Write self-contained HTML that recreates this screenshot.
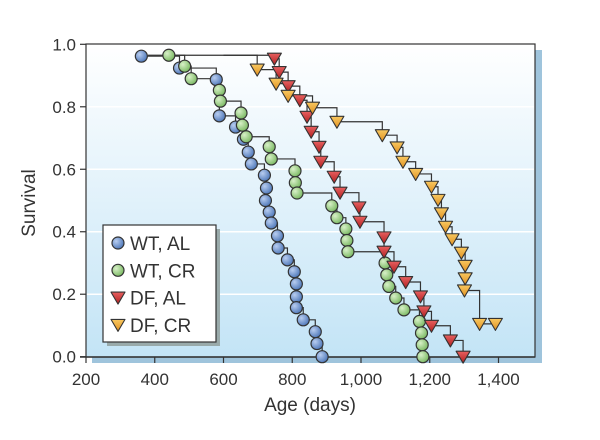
<!DOCTYPE html>
<html><head><meta charset="utf-8"><style>
body{margin:0;background:#fff;width:600px;height:435px;overflow:hidden}
svg text{font-family:"Liberation Sans",sans-serif;fill:#333}
</style></head><body>
<svg id="chart" width="600" height="435">
<defs>
<linearGradient id="bg" x1="0" y1="0" x2="0" y2="1"><stop offset="0" stop-color="#ffffff"/><stop offset="1" stop-color="#c3e4f6"/></linearGradient>
<radialGradient id="gb" cx="0.35" cy="0.35" r="0.7"><stop offset="0" stop-color="#b8cdf0"/><stop offset="1" stop-color="#4c76b8"/></radialGradient>
<radialGradient id="gg" cx="0.35" cy="0.35" r="0.7"><stop offset="0" stop-color="#d8f0c8"/><stop offset="1" stop-color="#78b860"/></radialGradient>
<linearGradient id="gr" x1="0" y1="0" x2="0" y2="1"><stop offset="0" stop-color="#e86060"/><stop offset="1" stop-color="#b02020"/></linearGradient>
<linearGradient id="go" x1="0" y1="0" x2="0" y2="1"><stop offset="0" stop-color="#f8c860"/><stop offset="1" stop-color="#e09020"/></linearGradient>
</defs>
<rect x="92" y="50" width="450" height="313" fill="#9fc4dc"/>
<rect x="86" y="44" width="449" height="313" fill="url(#bg)" stroke="#333" stroke-width="1.2"/>
<g id="grid"></g>
<g id="axes"></g>
<g id="series"></g>
<g>
<rect x="107" y="229" width="113" height="117" fill="#9aa"/>
<rect x="103" y="225" width="113" height="117" fill="#fff" stroke="#333" stroke-width="1.2"/>
<g id="legend"></g>
</g>
<text x="35" y="203" font-size="19" text-anchor="middle" transform="rotate(-90 35 203)">Survival</text>
<text x="310" y="411" font-size="19" text-anchor="middle">Age (days)</text>
</svg>
<script>
const xTicks=[200,400,600,800,1000,1200,1400];
const xTickLabels=["200","400","600","800","1,000","1,200","1,400"];
const yTicks=[0,0.2,0.4,0.6,0.8,1.0];
const yTickLabels=["0.0","0.2","0.4","0.6","0.8","1.0"];
const seriesNames=["WT, AL","WT, CR","DF, AL","DF, CR"];
const wtAlDays=[361,472,579,588,635,658,672,681,719,725,722,733,739,757,759,786,806,812,812,812,832,867,872,887];
const wtAlSurv=[0.962,0.924,0.887,0.771,0.735,0.696,0.655,0.617,0.581,0.54,0.50,0.463,0.428,0.387,0.348,0.31,0.272,0.233,0.192,0.157,0.118,0.08,0.042,0];
const wtCrDays=[441,487,506,588,591,651,655,666,733,739,808,809,814,915,930,956,959,962,1070,1075,1081,1101,1125,1170,1176,1178,1180];
const wtCrSurv=[0.965,0.93,0.89,0.853,0.818,0.78,0.741,0.704,0.672,0.633,0.595,0.557,0.524,0.483,0.445,0.409,0.372,0.336,0.3,0.262,0.225,0.188,0.15,0.113,0.076,0.038,0];
const dfAlDays=[748,762,788,822,843,855,878,883,922,939,994,997,1067,1067,1096,1130,1173,1183,1205,1260,1297];
const dfAlSurv=[0.954,0.911,0.866,0.821,0.768,0.72,0.672,0.624,0.576,0.525,0.478,0.432,0.382,0.336,0.288,0.239,0.193,0.145,0.099,0.052,0];
const dfCrDays=[698,753,788,859,930,1062,1105,1122,1159,1205,1224,1234,1246,1265,1292,1303,1303,1301,1345,1391];
const dfCrSurv=[0.919,0.874,0.835,0.797,0.752,0.709,0.67,0.624,0.585,0.544,0.502,0.459,0.416,0.376,0.333,0.291,0.251,0.212,0.105,0.105];

const X=d=>86+(d-200)*0.34375;
const Y=s=>356.7-s*312.4;
const NS="http://www.w3.org/2000/svg";
function mk(tag,attrs,parent){const e=document.createElementNS(NS,tag);for(const k in attrs)e.setAttribute(k,attrs[k]);parent.appendChild(e);return e;}
const grid=document.getElementById('grid'),axes=document.getElementById('axes'),ser=document.getElementById('series'),leg=document.getElementById('legend');
yTicks.forEach((v,i)=>{
  if(v>0&&v<1){const g=mk('line',{x1:87,x2:534,y1:Y(v),y2:Y(v),stroke:'#fff','stroke-width':1.5},grid);
  
  }
  const t=mk('line',{x1:80,x2:86,y1:Y(v),y2:Y(v),stroke:'#333','stroke-width':1.2},axes);
  
  
  const l=mk('text',{x:76,y:Y(v)+6,'font-size':17,'text-anchor':'end'},axes);l.textContent=yTickLabels[i];
  
  
});
mk('line',{x1:80,x2:535,y1:357,y2:357,stroke:'#333','stroke-width':1.4},axes);
xTicks.forEach((v,i)=>{
  const t=mk('line',{x1:X(v),x2:X(v),y1:357,y2:363,stroke:'#333','stroke-width':1.2},axes);
  
  
  const l=mk('text',{x:X(v),y:385,'font-size':17,'text-anchor':'middle'},axes);l.textContent=xTickLabels[i];
  
  
});
function marker(type,cx,cy,parent){
  if(type===0||type===1){return mk('circle',{cx:cx,cy:cy,r:6,fill:type===0?'url(#gb)':'url(#gg)',stroke:'#333','stroke-width':1.2},parent);}
  const w=7,h=11;
  return mk('polygon',{points:`${cx-w},${cy-h/2} ${cx+w},${cy-h/2} ${cx},${cy+h/2+1}`,fill:type===2?'url(#gr)':'url(#go)',stroke:'#333','stroke-width':1.1,'stroke-linejoin':'round'},parent);
}
const allDays=[wtAlDays,wtCrDays,dfAlDays,dfCrDays],allSurv=[wtAlSurv,wtCrSurv,dfAlSurv,dfCrSurv];
const keys=['wt-al','wt-cr','df-al','df-cr'];
const startDay=[null,null,600,380];
const startSurv=[null,null,0.965,0.965];
allDays.forEach((days,si)=>{
  const surv=allSurv[si];
  let d=startDay[si]!==null?`M${X(startDay[si])},${Y(startSurv[si])}H${X(days[0])}V${Y(surv[0])}`:`M${X(days[0])},${Y(surv[0])}`;
  for(let i=1;i<days.length;i++)d+=`H${X(days[i])}V${Y(surv[i])}`;
  const p=mk('path',{d:d,fill:'none',stroke:'#333','stroke-width':1.2},ser);
  
  
});
allDays.forEach((days,si)=>{
  const surv=allSurv[si];
  days.forEach((dd,i)=>{const m=marker(si,X(dd),Y(surv[i]),ser);
    
    });
});
seriesNames.forEach((n,i)=>{
  const y=243+i*27.3;
  const m=marker(i,118,y,leg);
  
  
  const t=mk('text',{x:130,y:y+7,'font-size':19},leg);t.textContent=n;
  
  
});
</script>
</body></html>
